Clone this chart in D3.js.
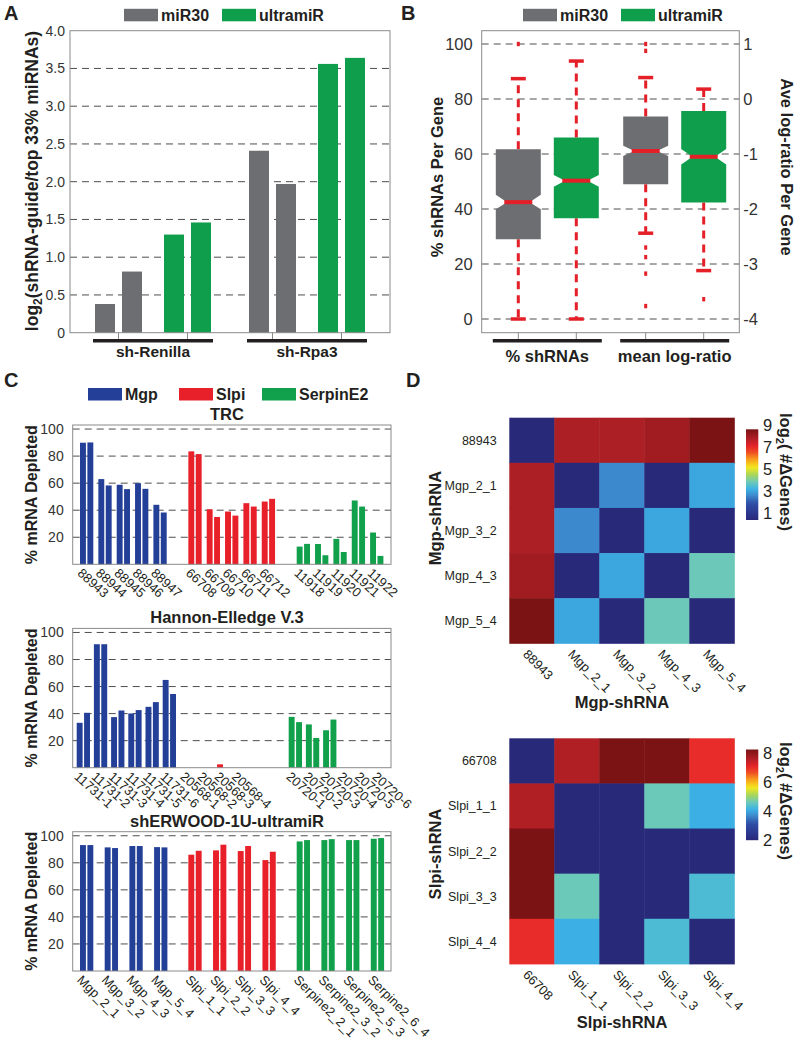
<!DOCTYPE html>
<html><head><meta charset="utf-8">
<script src="https://cdn.jsdelivr.net/npm/d3@7"></script>
<style>body{margin:0;background:#fff}</style>
</head><body>
<script>
// ================= DATA =================
// Panel A
const aGroups = ["sh-Renilla", "sh-Rpa3"];
const aVectors = ["miR30", "ultramiR"];
const aMiR30 = [[0.38, 0.81], [2.41, 1.97]];
const aUltramiR = [[1.30, 1.46], [3.56, 3.64]];
const aTicks = [0, 0.5, 1.0, 1.5, 2.0, 2.5, 3.0, 3.5, 4.0];
const aTickLabels = ["0", "0.5", "1.0", "1.5", "2.0", "2.5", "3.0", "3.5", "4.0"];

// Panel B  (boxes: %shRNAs miR30, %shRNAs ultramiR [percent]; mean log-ratio miR30, ultramiR [log-ratio])
const bGroups = ["% shRNAs", "mean log-ratio"];
const bSeries = ["miR30", "ultramiR"];
const bWhiskLo = [0, 0, -2.44, -3.12];
const bQ1 = [29, 36.6, -1.55, -1.88];
const bNotchLo = [39.9, 48.1, -1.035, -1.19];
const bMedian = [42.5, 50.3, -0.945, -1.05];
const bNotchHi = [45.2, 52.4, -0.85, -0.91];
const bQ3 = [61.7, 66, -0.32, -0.22];
const bWhiskHi = [87.4, 93.8, 0.39, 0.18];
const bOutliers = [[100], [], [1.0, 0.875, -2.7, -2.875, -3.175, -3.765], [-3.64]];
const bLeftTicks = [0, 20, 40, 60, 80, 100];
const bRightTicks = [-4, -3, -2, -1, 0, 1];

// Panel C
const cGenes = ["Mgp", "Slpi", "SerpinE2"];
const cTicks = [20, 40, 60, 80, 100];
const trcLabelsMgp = ["88943", "88944", "88945", "88946", "88947"];
const trcLabelsSlpi = ["66708", "66709", "66710", "66711", "66712"];
const trcLabelsSerpin = ["11918", "11919", "11920", "11921", "11922"];
const trcMgp = [[89.9, 90.1], [63, 58.3], [58.8, 55.6], [60, 55.8], [44, 38.3]];
const trcSlpi = [[83.5, 81.5], [40.7, 35], [39, 36], [45.2, 42.7], [46.4, 48.4]];
const trcSerpin = [[13.1, 15.1], [15, 6.7], [18.8, 9.1], [47.2, 42.7], [23.5, 6.2]];

const heLabelsMgp = ["11731-1", "11731-2", "11731-3", "11731-4", "11731-5", "11731-6"];
const heLabelsSlpi = ["20568-1", "20568-2", "20568-3", "20568-4"];
const heLabelsSerpin = ["20720-1", "20720-2", "20720-3", "20720-4", "20720-5", "20720-6"];
const heMgp = [[33.2, 40.6], [91.3, 91.3], [37.4, 42.3], [40.1, 42.6], [45, 48.5], [64.9, 54.5]];
const heSlpi = [[0, 0], [0, 0], [2.5, 0], [0, 0]];
const heSerpin = [[37.6, 33.7], [32, 22], [27.7, 35.6], [0, 0], [0, 0], [0, 0]];

const shLabelsMgp = ["Mgp_2_1", "Mgp_3_2", "Mgp_4_3", "Mgp_5_4"];
const shLabelsSlpi = ["Slpi_1_1", "Slpi_2_2", "Slpi_3_3", "Slpi_4_4"];
const shLabelsSerpin = ["Serpine2_2_1", "Serpine2_3_2", "Serpine2_5_3", "Serpine2_6_4"];
const shMgp = [[93.1, 93.1], [91.4, 90.9], [92.4, 92.4], [91.6, 91.4]];
const shSlpi = [[86, 88.9], [89.2, 93.4], [88.7, 92.4], [82, 88.2]];
const shSerpin = [[95.8, 96.8], [96.8, 97.5], [96.8, 96.8], [97.8, 98.3]];

// Panel D
const mgpShRNAs = ["88943", "Mgp_2_1", "Mgp_3_2", "Mgp_4_3", "Mgp_5_4"];
const mgpLog2Genes = [
  [0.35, 7.8, 7.8, 8.0, 8.6],
  [7.8, 0.35, 2.6, 0.35, 3.0],
  [7.8, 2.6, 0.35, 3.0, 0.35],
  [8.0, 0.35, 3.0, 0.35, 3.8],
  [8.6, 3.0, 0.35, 3.8, 0.35]];
const mgpColorTicks = [1, 3, 5, 7, 9];
const slpiShRNAs = ["66708", "Slpi_1_1", "Slpi_2_2", "Slpi_3_3", "Slpi_4_4"];
const slpiLog2Genes = [
  [2.0, 7.6, 8.23, 8.23, 7.0],
  [7.6, 2.0, 2.0, 4.6, 4.1],
  [8.23, 2.0, 2.0, 2.0, 2.0],
  [8.23, 4.6, 2.0, 2.0, 4.3],
  [7.0, 4.1, 2.0, 4.3, 2.0]];
const slpiColorTicks = [2, 4, 6, 8];

// ================= STYLE =================
const FONT = "'Liberation Sans', Arial, Helvetica, sans-serif";
const GRAY = "#6d6e71", GREEN = "#0f9e4b", RED = "#e41f28";
const GENE_COLORS = ["#233f97", "#e8202a", "#11a04b"];
const FRAME = "#8a8a8a", TXT = "#231f20";
const jet = d3.scaleLinear()
  .domain([0, 0.05, 0.18, 0.28, 0.34, 0.42, 0.5, 0.58, 0.66, 0.75, 0.82, 0.9, 1])
  .range(["#29297a", "#2b3088", "#2f4ea6", "#3d8fd0", "#3cb2e6", "#6dcab8", "#a9d65a", "#f4e81f", "#f9a51b", "#ef4a24", "#e4222a", "#ae1f24", "#7b1315"])
  .interpolate(d3.interpolateRgb);

const svg = d3.select("body").append("svg")
  .attr("width", 800).attr("height", 1047)
  .style("font-family", FONT);
svg.append("rect").attr("width", 800).attr("height", 1047).attr("fill", "#fff");

function label(x, y, s, size = 16, weight = "bold", anchor = "start") {
  return svg.append("text").attr("x", x).attr("y", y).attr("font-size", size)
    .attr("font-weight", weight).attr("text-anchor", anchor).attr("fill", TXT).text(s);
}
function legend(x0s, y, names, colors) {
  names.forEach((n, i) => {
    svg.append("rect").attr("x", x0s[i]).attr("y", y).attr("width", 34).attr("height", 12.5).attr("fill", colors[i]);
    label(x0s[i] + 37, y + 11.8, n, 16);
  });
}
function frame(f) {
  svg.append("rect").attr("x", f.left).attr("y", f.top).attr("width", f.right - f.left)
    .attr("height", f.bottom - f.top).attr("fill", "none").attr("stroke", FRAME).attr("stroke-width", 1);
}
function grid(f, ys) {
  svg.append("g").selectAll("line").data(ys).join("line")
    .attr("x1", f.left).attr("x2", f.right).attr("y1", d => d).attr("y2", d => d)
    .attr("stroke", "#3a3a3a").attr("stroke-width", 0.9).attr("stroke-dasharray", "7,5");
}

// Panel letters
label(4, 20, "A", 20);
label(401, 20, "B", 20);
label(4, 387, "C", 20);
label(406, 387, "D", 20);

// ================= PANEL A =================
{
  const F = { left: 70, right: 390, top: 30.7, bottom: 332.7 };
  const y = d3.scaleLinear().domain([0, 4]).range([F.bottom, F.top]);
  const xG = d3.scaleBand().domain(aGroups).range([95, 95 + 2 * 154]);
  const xV = d3.scaleBand().domain(aVectors).range([0, 138]);
  const xR = d3.scaleBand().domain([0, 1]).range([0, 47]).paddingInner(0.26);
  grid(F, aTicks.filter(t => t > 0 && t < 4).map(y));
  const bars = [];
  aGroups.forEach((g, gi) => {
    [aMiR30, aUltramiR].forEach((arr, vi) => {
      arr[gi].forEach((v, ri) => bars.push({ g, vec: aVectors[vi], ri, v, c: vi ? GREEN : GRAY }));
    });
  });
  svg.append("g").selectAll("rect").data(bars).join("rect")
    .attr("x", d => xG(d.g) + xV(d.vec) + xR(d.ri)).attr("width", xR.bandwidth())
    .attr("y", d => y(d.v)).attr("height", d => y(0) - y(d.v)).attr("fill", d => d.c);
  frame(F);
  aTicks.forEach((t, i) => label(F.left - 5, y(t), aTickLabels[i], 14, "normal", "end").attr("dy", "0.36em").attr("fill", "#333"));
  aGroups.forEach(g => {
    const x1 = xG(g) - 2, x2 = xG(g) + xV("ultramiR") + 47 + 2;
    aVectors.forEach(v => {
      const cx = xG(g) + xV(v) + 23.5;
      svg.append("line").attr("x1", cx).attr("x2", cx).attr("y1", F.bottom).attr("y2", 340).attr("stroke", FRAME);
    });
    svg.append("line").attr("x1", x1).attr("x2", x2).attr("y1", 340.7).attr("y2", 340.7).attr("stroke", TXT).attr("stroke-width", 3.5);
    label((x1 + x2) / 2, 357, g, 15.5, "bold", "middle");
  });
  legend([124, 222], 8.8, aVectors, [GRAY, GREEN]);
  const yl = svg.append("text").attr("transform", "translate(38,181) rotate(-90)")
    .attr("text-anchor", "middle").attr("font-weight", "bold").attr("font-size", 17.5).attr("fill", TXT);
  yl.append("tspan").text("log");
  yl.append("tspan").attr("font-size", 12).attr("dy", 4).text("2");
  yl.append("tspan").attr("dy", -4).text("(shRNA-guide/top 33% miRNAs)");
}

// ================= PANEL B =================
{
  const F = { left: 481.7, right: 739.3, top: 30.7, bottom: 332.7 };
  const yL = d3.scaleLinear().domain([0, 100]).range([319, 44]);
  const yR = d3.scaleLinear().domain([-4, 1]).range([319, 44]);
  const xG = d3.scaleBand().domain(bGroups).range([518.3, 518.3 + 2 * 127.4]);
  const xS = d3.scaleBand().domain(bSeries).range([0, 116]);
  grid(F, bLeftTicks.map(yL));
  const hw = 22.5;
  bQ1.forEach((q1, i) => {
    const g = bGroups[Math.floor(i / 2)], s = bSeries[i % 2];
    const yy = i < 2 ? yL : yR;
    const cx = xG(g) + xS(s);
    const col = i % 2 ? GREEN : GRAY;
    // whiskers
    [[bQ3[i], bWhiskHi[i]], [q1, bWhiskLo[i]]].forEach(([a, b]) => {
      svg.append("line").attr("x1", cx).attr("x2", cx).attr("y1", yy(a)).attr("y2", yy(b))
        .attr("stroke", RED).attr("stroke-width", 3).attr("stroke-dasharray", "8,6");
      svg.append("line").attr("x1", cx - 7.5).attr("x2", cx + 7.5).attr("y1", yy(b)).attr("y2", yy(b))
        .attr("stroke", RED).attr("stroke-width", 3.5);
    });
    const pts = [[cx - hw, q1], [cx + hw, q1], [cx + hw, bNotchLo[i]], [cx + hw / 2, bMedian[i]], [cx + hw, bNotchHi[i]],
      [cx + hw, bQ3[i]], [cx - hw, bQ3[i]], [cx - hw, bNotchHi[i]], [cx - hw / 2, bMedian[i]], [cx - hw, bNotchLo[i]]];
    svg.append("polygon").attr("points", pts.map(p => p[0] + "," + yy(p[1])).join(" ")).attr("fill", col);
    svg.append("line").attr("x1", cx - 14).attr("x2", cx + 14).attr("y1", yy(bMedian[i])).attr("y2", yy(bMedian[i]))
      .attr("stroke", RED).attr("stroke-width", 4);
    bOutliers[i].forEach(o => {
      svg.append("rect").attr("x", cx - 1.5).attr("y", yy(o) - 2.2).attr("width", 3).attr("height", 4.4).attr("fill", RED);
    });
  });
  frame(F);
  bLeftTicks.forEach(t => label(F.left - 9, yL(t), String(t), 16.5, "normal", "end").attr("dy", "0.36em").attr("fill", "#333"));
  bRightTicks.forEach(t => label(F.right + 4, yR(t), t < 0 ? "-" + Math.abs(t) : String(t), 16.5, "normal", "start").attr("dy", "0.36em").attr("fill", "#333"));
  bGroups.forEach(g => {
    const x1 = xG(g) - hw - 3, x2 = xG(g) + xS("ultramiR") + hw + 3;
    bSeries.forEach(s => {
      const cx = xG(g) + xS(s);
      svg.append("line").attr("x1", cx).attr("x2", cx).attr("y1", F.bottom).attr("y2", 340).attr("stroke", FRAME);
    });
    svg.append("line").attr("x1", x1).attr("x2", x2).attr("y1", 340.7).attr("y2", 340.7).attr("stroke", TXT).attr("stroke-width", 3.5);
    label((x1 + x2) / 2, 362, g, 16.5, "bold", "middle");
  });
  legend([523, 621], 8.8, bSeries, [GRAY, GREEN]);
  label(0, 0, "% shRNAs Per Gene", 16.5).attr("text-anchor", "middle").attr("transform", "translate(443,177) rotate(-90)").attr("x", null).attr("y", null);
  label(0, 0, "Ave log-ratio Per Gene", 16.5).attr("text-anchor", "middle").attr("transform", "translate(781,167) rotate(90)").attr("x", null).attr("y", null);
}

// ================= PANEL C =================
legend([88, 179, 262], 388, cGenes, GENE_COLORS);
function drawLib(cfg) {
  const F = { left: 72.7, right: 391, top: cfg.top, bottom: cfg.top + 139.3 };
  const y = d3.scaleLinear().domain([0, 103]).range([F.bottom, F.top]);
  const xG = d3.scaleBand().domain(cGenes).range([cfg.x0, cfg.x0 + 3 * cfg.groupStep]);
  const xR = d3.scaleBand().domain([0, 1]).range([0, 13.3]).paddingInner(0.2);
  grid(F, cTicks.map(y));
  cGenes.forEach((gene, gi) => {
    const labs = cfg.labels[gi], vals = cfg.values[gi];
    const xP = d3.scaleBand().domain(labs).range([0, labs.length * cfg.pairStep]);
    labs.forEach((lab, pi) => {
      const px = xG(gene) + xP(lab);
      vals[pi].forEach((v, ri) => {
        if (v > 0) svg.append("rect").attr("x", px + xR(ri)).attr("width", xR.bandwidth())
          .attr("y", y(v)).attr("height", y(0) - y(v)).attr("fill", GENE_COLORS[gi]);
      });
      svg.append("text").attr("transform", `translate(${px + 3},${F.bottom + 3}) rotate(${cfg.angle})`)
        .attr("dy", "0.72em").attr("font-size", 13).attr("fill", TXT).text(lab);
    });
  });
  frame(F);
  cTicks.forEach(t => label(F.left - 9, y(t), String(t), 14, "normal", "end").attr("dy", "0.36em").attr("fill", "#333"));
  label(227, F.top - 5, cfg.title, 16.5, "bold", "middle");
  label(0, 0, "% mRNA Depleted", 16).attr("text-anchor", "middle")
    .attr("transform", `translate(37,${(F.top + F.bottom) / 2}) rotate(-90)`).attr("x", null).attr("y", null);
}
drawLib({ title: "TRC", top: 425, x0: 80, groupStep: 108.35, pairStep: 18.35, angle: 42,
  labels: [trcLabelsMgp, trcLabelsSlpi, trcLabelsSerpin], values: [trcMgp, trcSlpi, trcSerpin] });
drawLib({ title: "Hannon-Elledge V.3", top: 628.4, x0: 76.7, groupStep: 106, pairStep: 17.2, angle: 42,
  labels: [heLabelsMgp, heLabelsSlpi, heLabelsSerpin], values: [heMgp, heSlpi, heSerpin] });
drawLib({ title: "shERWOOD-1U-ultramiR", top: 831.7, x0: 80, groupStep: 108.35, pairStep: 24.7, angle: 45,
  labels: [shLabelsMgp, shLabelsSlpi, shLabelsSerpin], values: [shMgp, shSlpi, shSerpin] });

// ================= PANEL D =================
function drawHeat(cfg) {
  const x = d3.scaleBand().domain(cfg.names).range([509.3, 734.3]);
  const y = d3.scaleBand().domain(cfg.names).range([cfg.top, cfg.top + 225.6]);
  const ext = d3.extent(cfg.matrix.flat());
  const t = d3.scaleLinear().domain(ext).range([0, 1]);
  const cells = [];
  cfg.matrix.forEach((row, ri) => row.forEach((v, ci) => cells.push({ r: cfg.names[ri], c: cfg.names[ci], v })));
  svg.append("g").selectAll("rect").data(cells).join("rect")
    .attr("x", d => x(d.c)).attr("y", d => y(d.r)).attr("width", x.bandwidth() + 0.5).attr("height", y.bandwidth() + 0.5)
    .attr("fill", d => jet(t(d.v)));
  cfg.names.forEach(n => {
    label(496.7, y(n) + y.bandwidth() / 2, n, 12.5, "normal", "end").attr("dy", "0.36em");
    svg.append("text").attr("transform", `translate(${x(n) + x.bandwidth() / 2 - 3},${cfg.top + 225.6 + 5}) rotate(45)`)
      .attr("dy", "0.72em").attr("font-size", 13).attr("fill", TXT).text(n);
  });
  // colorbar
  const cb = d3.scaleLinear().domain(ext).range([cfg.cbTop + 90.7, cfg.cbTop]);
  const gid = "grad" + cfg.id;
  const grad = svg.append("defs").append("linearGradient").attr("id", gid)
    .attr("x1", 0).attr("x2", 0).attr("y1", 1).attr("y2", 0);
  d3.range(0, 1.0001, 0.025).forEach(s => grad.append("stop").attr("offset", s).attr("stop-color", jet(s)));
  svg.append("rect").attr("x", 746).attr("y", cfg.cbTop).attr("width", 12.3).attr("height", 90.7).attr("fill", `url(#${gid})`);
  cfg.ticks.forEach(v => label(763, cb(v), String(v), 16.5, "normal", "start").attr("dy", "0.36em"));
  const lt = svg.append("text").attr("transform", `translate(780,${cfg.legendY}) rotate(90)`)
    .attr("text-anchor", "middle").attr("font-weight", "bold").attr("font-size", 16.5).attr("fill", TXT);
  lt.append("tspan").text("log");
  lt.append("tspan").attr("font-size", 11).attr("dy", 4).text("2");
  lt.append("tspan").attr("dy", -4).text("( #\u0394Genes)");
  label(0, 0, cfg.title, 16.5).attr("text-anchor", "middle")
    .attr("transform", `translate(441,${cfg.yTitleY}) rotate(-90)`).attr("x", null).attr("y", null);
  label(622, cfg.xTitleY, cfg.title, 16.5, "bold", "middle");
}
drawHeat({ id: "mgp", names: mgpShRNAs, matrix: mgpLog2Genes, top: 417.7, cbTop: 429.3, ticks: mgpColorTicks,
  legendY: 472, yTitleY: 518, xTitleY: 708, title: "Mgp-shRNA" });
drawHeat({ id: "slpi", names: slpiShRNAs, matrix: slpiLog2Genes, top: 738.3, cbTop: 749.5, ticks: slpiColorTicks,
  legendY: 801, yTitleY: 854, xTitleY: 1028, title: "Slpi-shRNA" });
</script>
</body></html>
